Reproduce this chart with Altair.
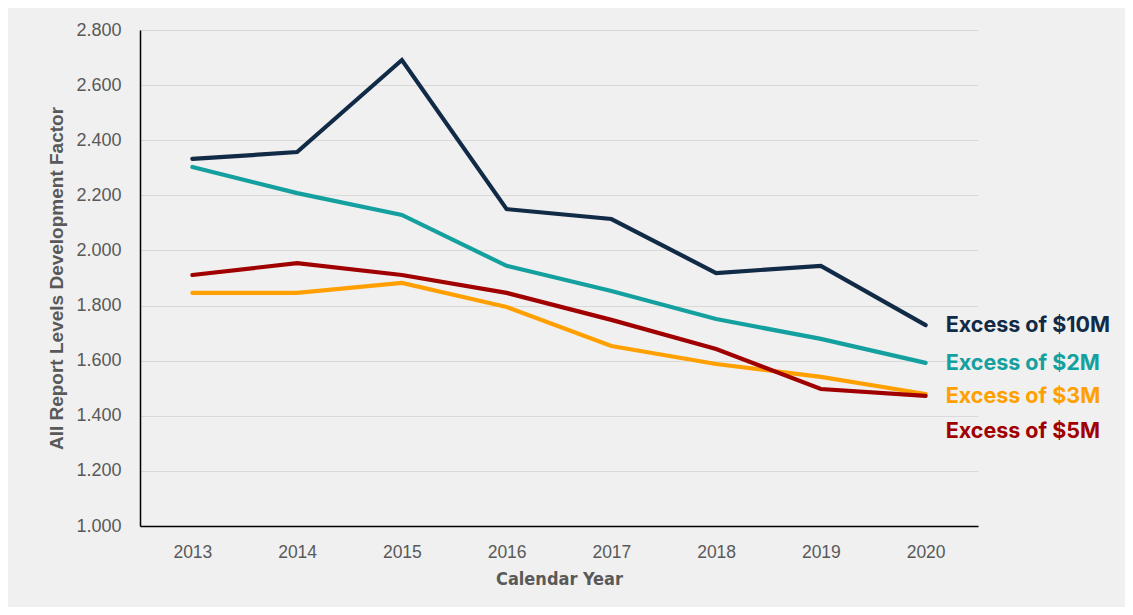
import altair as alt
import pandas as pd

years = ["2013", "2014", "2015", "2016", "2017", "2018", "2019", "2020"]
series_names = ["Excess of $10M", "Excess of $2M", "Excess of $3M", "Excess of $5M"]
excess_10m = [2.332, 2.357, 2.691, 2.150, 2.114, 1.918, 1.944, 1.729]
excess_2m = [2.303, 2.208, 2.129, 1.944, 1.853, 1.751, 1.679, 1.592]
excess_3m = [1.846, 1.846, 1.882, 1.795, 1.653, 1.588, 1.541, 1.479]
excess_5m = [1.911, 1.954, 1.911, 1.846, 1.748, 1.642, 1.497, 1.472]
colors = ["#112a46", "#14a09e", "#ffa000", "#a00000"]
y_ticks = [1.0, 1.2, 1.4, 1.6, 1.8, 2.0, 2.2, 2.4, 2.6, 2.8]

values = [excess_10m, excess_2m, excess_3m, excess_5m]
rows = []
for name, vals in zip(series_names, values):
    for yr, v in zip(years, vals):
        rows.append({"year": yr, "value": v, "series": name})
df = pd.DataFrame(rows)

x_scale = alt.Scale(type="point", padding=0.5, domain=years)

x_enc = alt.X(
    "year:O",
    scale=x_scale,
    axis=alt.Axis(
        title="Calendar Year",
        labelAngle=0,
        labelFont="Liberation Sans",
        labelFontSize=17.5,
        labelColor="#595959",
        labelPadding=17,
        titleFont="DejaVu Sans Condensed",
        titleFontSize=18,
        titleFontWeight="bold",
        titleColor="#595959",
        titlePadding=10,
        ticks=False,
        grid=False,
        domainColor="#000000",
        domainWidth=1.5,
    ),
)
y_enc = alt.Y(
    "value:Q",
    scale=alt.Scale(domain=[1.0, 2.8], nice=False, zero=False),
    axis=alt.Axis(
        title="All Report Levels Development Factor",
        values=y_ticks,
        format=".3f",
        labelFont="Liberation Sans",
        labelFontSize=18,
        labelColor="#595959",
        labelPadding=19,
        titleFont="Liberation Sans",
        titleFontSize=19,
        titleFontWeight="bold",
        titleColor="#595959",
        titlePadding=9,
        ticks=False,
        grid=True,
        gridColor="#d9d9d9",
        gridWidth=1.2,
        domainColor="#000000",
        domainWidth=1.5,
    ),
)

lines = alt.Chart(df).mark_line(strokeWidth=4.2, strokeCap="round", strokeJoin="miter").encode(
    x=x_enc,
    y=y_enc,
    color=alt.Color("series:N", scale=alt.Scale(domain=series_names, range=colors), legend=None),
    detail="series:N",
)

label_dy = [1, 1, 3, 36]
layers = [lines]
for name, vals, col, dy in zip(series_names, values, colors, label_dy):
    ldf = pd.DataFrame({"year": [years[-1]], "value": [vals[-1]], "label": [name]})
    layers.append(
        alt.Chart(ldf).mark_text(
            align="left", baseline="middle", dx=20, dy=dy,
            font="Inter", fontSize=21.5, fontWeight="bold", color=col,
        ).encode(x=alt.X("year:O", scale=x_scale),
                 y=alt.Y("value:Q"), text="label:N")
    )

chart = alt.layer(*layers).properties(
    width=838,
    height=496,
    background="#f0f0f0",
    autosize=alt.AutoSizeParams(type="none"),
    padding={"left": 132, "top": 22, "right": 147, "bottom": 81},
).configure_view(stroke=None)

chart.save("out.html", embed_options={"renderer": "svg", "actions": False})
